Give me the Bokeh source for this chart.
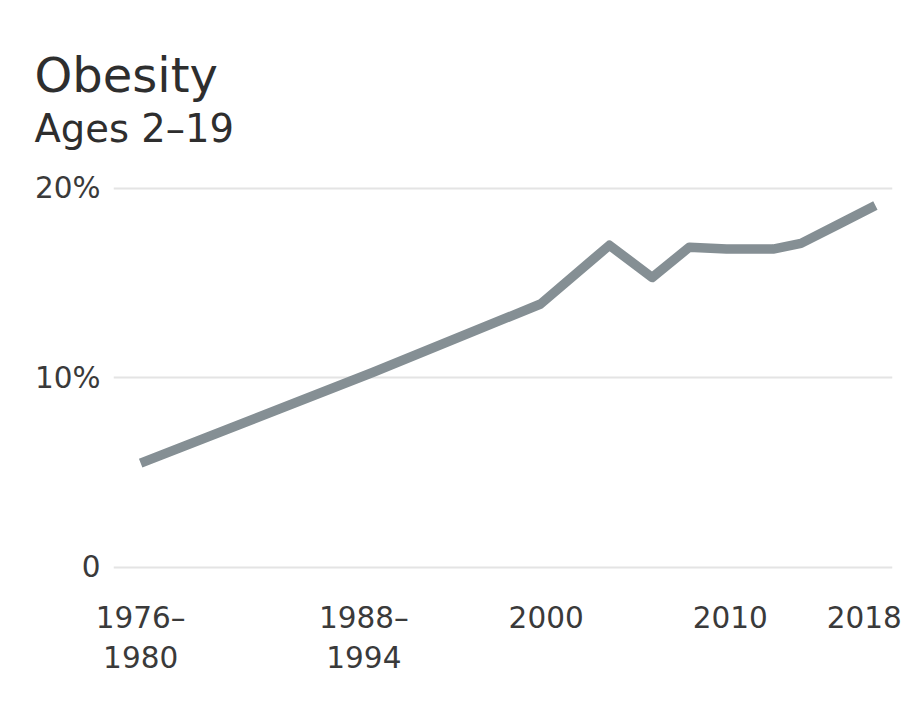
from bokeh.plotting import figure
from bokeh.models import Range1d, FixedTicker, Title
from bokeh.embed import file_html
from bokeh.resources import INLINE

# Data
years = [1978.5, 1991.0, 2000.0, 2003.7, 2006.0, 2008.0, 2010.0, 2012.5, 2014.0, 2016.0, 2018.0]
obesity_pct = [5.5, 10.3, 13.9, 17.0, 15.3, 16.9, 16.8, 16.8, 17.1, 18.1, 19.1]

x_tick_pos = [1978.5, 1990.5, 2000.3, 2010.2, 2017.4]
x_tick_labels = ["1976–\n1980", "1988–\n1994", "2000", "2010", "2018"]
y_tick_pos = [0, 10, 20]
y_tick_labels = ["0", "10%", "20%"]

title_text = "Obesity"
subtitle_text = "Ages 2–19"

FONT = "DejaVu Sans"

p = figure(width=914, height=698, output_backend="svg", toolbar_location=None,
           title=None,
           x_range=Range1d(1977.04, 2018.92), y_range=Range1d(-0.69, 22.0),
           min_border_left=113, min_border_right=22, min_border_top=150,
           min_border_bottom=118)
p.outline_line_color = None
p.background_fill_color = "white"
p.border_fill_color = "white"

p.line(years, obesity_pct, line_width=9.5, line_color="#858f94", line_join="round")

p.xgrid.visible = False
p.ygrid.grid_line_color = "#e4e4e4"
p.ygrid.grid_line_width = 2

for ax in (p.xaxis[0], p.yaxis[0]):
    ax.axis_line_color = None
    ax.major_tick_line_color = None
    ax.minor_tick_line_color = None
    ax.major_tick_in = 0
    ax.major_tick_out = 0
    ax.major_label_text_font = FONT
    ax.major_label_text_font_size = "29.5px"
    ax.major_label_text_color = "#3a3a3a"

p.xaxis[0].ticker = FixedTicker(ticks=x_tick_pos)
p.xaxis[0].major_label_overrides = dict(zip(x_tick_pos, x_tick_labels))
p.xaxis[0].major_label_standoff = 20

p.yaxis[0].ticker = FixedTicker(ticks=y_tick_pos)
p.yaxis[0].major_label_overrides = dict(zip(y_tick_pos, y_tick_labels))
p.yaxis[0].major_label_standoff = 13

p.add_layout(Title(text=subtitle_text, align="left", offset=-79, standoff=0,
                   text_font=FONT, text_font_size="38.5px", text_font_style="normal",
                   text_color="#2e2e2e"), "above")
p.add_layout(Title(text=title_text, align="left", offset=-79, standoff=2,
                   text_font=FONT, text_font_size="48px", text_font_style="normal",
                   text_color="#2e2e2e"), "above")

open("out.html", "w").write(file_html(p, INLINE))
